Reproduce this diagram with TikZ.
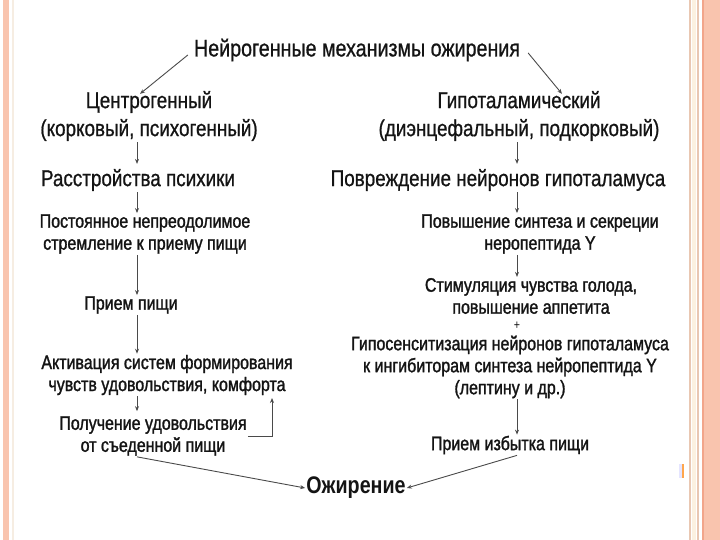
\documentclass[tikz,border=0pt]{standalone}
\usepackage{fontspec}
\setmainfont{Liberation Sans}[FakeStretch=0.82]
\newfontfamily\headfont{Liberation Sans}[FakeStretch=0.82,FakeBold=0.8]
\newfontfamily\smallfont{Liberation Sans}[FakeStretch=0.82,FakeBold=1.4]
\usetikzlibrary{arrows.meta}
\definecolor{salmon}{HTML}{F9C4AE}
\definecolor{salmondark}{HTML}{F2A58A}
\definecolor{tanline}{HTML}{E9C7B2}
\definecolor{creamline}{HTML}{FCF1E0}
\definecolor{paleline}{HTML}{F6EDE2}
\definecolor{txt}{HTML}{141414}
\definecolor{conn}{HTML}{4A4A4A}
\tikzset{
  head/.style={text=txt, inner sep=1pt, align=center, font=\headfont\fontsize{23}{28}\selectfont},
  ttl/.style={text=txt, inner sep=1pt, align=center, font=\headfont\fontsize{24}{28}\selectfont},
  small/.style={text=txt, inner sep=1pt, align=center, font=\smallfont\fontsize{19.5}{22}\selectfont},
  big/.style={text=txt, inner sep=1pt, align=center, font=\bfseries\fontsize{24}{28}\selectfont},
  arr/.style={draw=conn, line width=0.9pt, -{Stealth[length=5pt,width=4pt]}},
  ln/.style={draw=conn, line width=0.9pt}
}
\begin{document}
\begin{tikzpicture}[x=1pt,y=-1pt]
\path[use as bounding box, fill=white] (0,0) rectangle (720,540);
% slide borders
\fill[salmon] (3,0) rectangle (9,540);
\fill[paleline] (12,0) rectangle (14,540);
\fill[tanline] (689,0) rectangle (691,540);
\fill[creamline] (692,0) rectangle (696,540);
\fill[tanline] (697,0) rectangle (699,540);
\fill[salmon] (702,0) rectangle (720,540);
\fill[salmondark] (702,0) rectangle (704,540);
\fill[blue!10] (679,464) rectangle (682,478);
\fill[orange!70] (682,464) rectangle (684,478);

\coordinate (xL) at (137,0);
\coordinate (xR) at (517,0);

\node[ttl] (title) at (357,50) {Нейрогенные механизмы ожирения};

\node[head] (c1) at (149,116) {Центрогенный\\(корковый, психогенный)};
\node[head] (c2) at (138,180) {Расстройства психики};
\node[small] (c3) at (145,234) {Постоянное непреодолимое\\стремление к приему пищи};
\node[small] (c4) at (131,305) {Прием пищи};
\node[small] (c5) at (167,375) {Активация систем формирования\\чувств удовольствия, комфорта};
\node[small] (c6) at (153,436) {Получение удовольствия\\от съеденной пищи};

\node[head] (h1) at (519,116) {Гипоталамический\\(диэнцефальный, подкорковый)};
\node[head] (h2) at (498,180) {Повреждение нейронов гипоталамуса};
\node[small] (h3) at (540,234) {Повышение синтеза и секреции\\неропептида Y};
\node[small] (h4) at (531,296) {Стимуляция чувства голода,\\повышение аппетита};
\node[text=txt, inner sep=0pt, font=\fontsize{13}{13}\selectfont] (plus) at (517,326) {+};
\node[small] (h5) at (510,367) {Гипосенситизация нейронов гипоталамуса\\к ингибиторам синтеза нейропептида Y\\(лептину и др.)};
\node[small] (h6) at (510,445) {Прием избытка пищи};

\node[big] (ob) at (356,488) {Ожирение};

\coordinate (fb) at (272,398);

% top diagonals
\draw[arr] ([shift={(-5,5)}]title.west) -- ([shift={(-9,4)}]c1.north);
\draw[arr] ([shift={(7,3)}]title.east) -- ([shift={(43,4)}]h1.north);

% left column
\draw[arr] (c1.south -| xL) -- ([yshift=4]c2.north -| xL);
\draw[arr] (c2.south -| xL) -- (c3.north -| xL);
\draw[arr] (c3.south -| xL) -- (c4.north -| xL);
\draw[arr] (c4.south -| xL) -- (c5.north -| xL);
\draw[arr] (c5.south -| xL) -- ([yshift=4]c6.north -| xL);
\draw[arr] (c6.east) -| (fb);
\draw[arr] (c6.south -| xL) -- (ob.west);

% right column
\draw[arr] (h1.south -| xR) -- ([yshift=4]h2.north -| xR);
\draw[arr] (h2.south -| xR) -- (h3.north -| xR);
\draw[arr] (h3.south -| xR) -- (h4.north -| xR);
\draw[arr] (h5.south -| xR) -- (h6.north -| xR);
\draw[arr] (h6.south -| xR) -- (ob.east);
\end{tikzpicture}
\end{document}
